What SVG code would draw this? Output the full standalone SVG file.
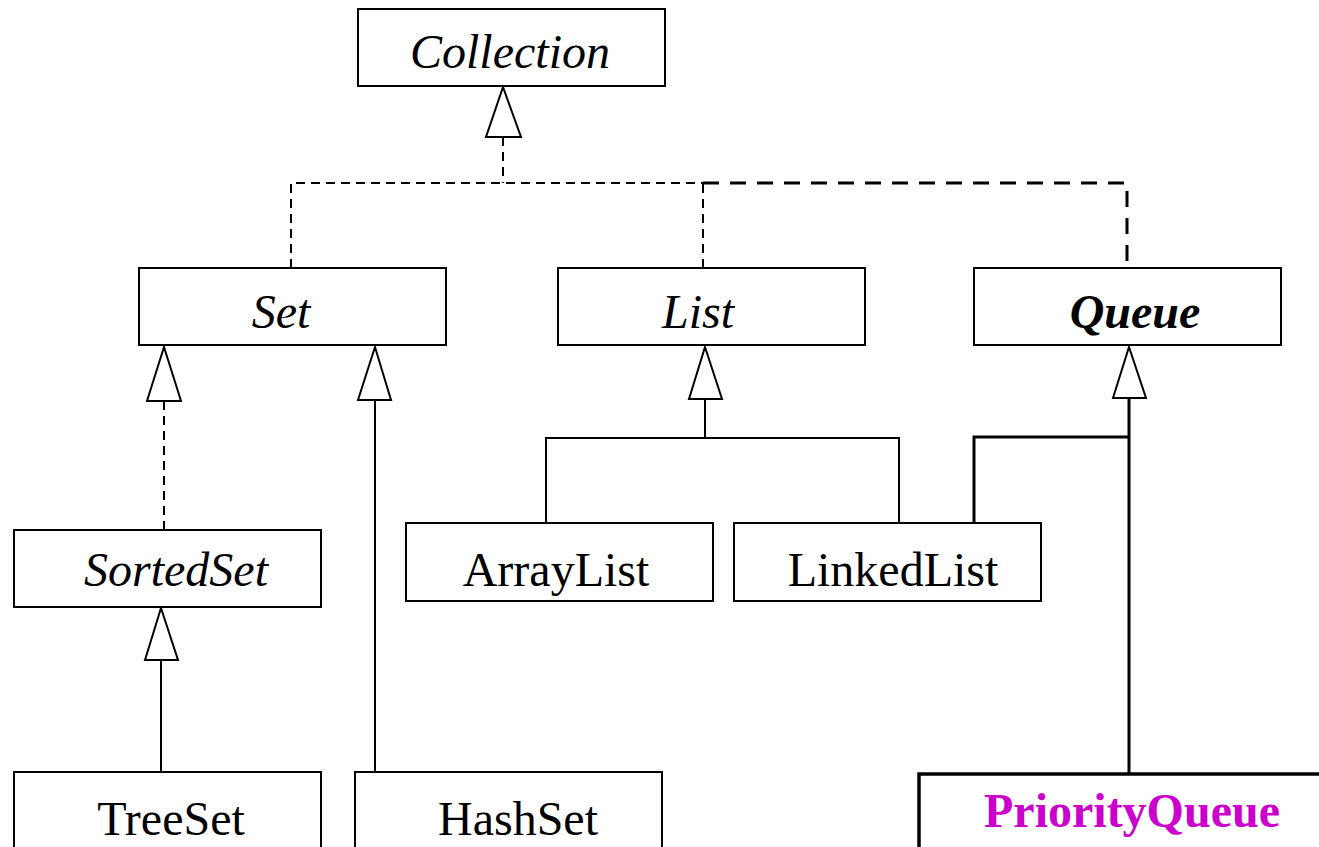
<svg xmlns="http://www.w3.org/2000/svg" width="1319" height="847" viewBox="0 0 1319 847">
<style>
.box{fill:#fff;stroke:#000;stroke-width:2}
.pq{stroke-width:3.5}
.t{font-family:"Liberation Serif","Times New Roman",serif;font-size:48px;text-anchor:middle;fill:#000}
.i{font-style:italic}
.b{font-weight:bold}
.mag{fill:#cc00cc}
.c{fill:none;stroke:#000;stroke-width:2}
.d{stroke-dasharray:9 6}
.thick{stroke-width:3}
.dd{stroke-dasharray:16 11}
.tri{fill:#fff;stroke:#000;stroke-width:2}
</style>
<rect width="1319" height="847" fill="#fff"/>
<g id="connectors">
  <path class="c d" d="M503,137 V183 M291,268 V183 H703"/>
  <path class="c d" d="M703,268 V183"/>
  <path class="c thick dd" d="M703,183 H1127 V268"/>
  <polygon class="tri" points="503,87 486,137 521,137"/>
  <path class="c d" d="M164,530 V402"/>
  <polygon class="tri" points="164,347 147,401 181,401"/>
  <path class="c" d="M375,772 V400"/>
  <polygon class="tri" points="375,347 358,400 391,400"/>
  <path class="c" d="M161,772 V660"/>
  <polygon class="tri" points="161,608 145,660 178,660"/>
  <path class="c" d="M705,400 V438 M546,523 V438 H899 V523"/>
  <polygon class="tri" points="705,347 689,399 722,399"/>
  <path class="c thick" d="M1129,398 V773 M974,523 V437 H1129"/>
  <polygon class="tri thick" points="1129,347 1113,398 1146,398"/>
</g>
<g id="Collection"><rect class="box" x="358" y="9" width="307" height="77"/><text class="t i" x="510" y="68">Collection</text></g>
<g id="Set"><rect class="box" x="139" y="268" width="307" height="77"/><text class="t i" x="281" y="328">Set</text></g>
<g id="List"><rect class="box" x="558" y="268" width="307" height="77"/><text class="t i" x="698" y="328">List</text></g>
<g id="Queue"><rect class="box" x="974" y="268" width="307" height="77"/><text class="t i b" x="1135" y="328">Queue</text></g>
<g id="SortedSet"><rect class="box" x="14" y="530" width="307" height="77"/><text class="t i" x="176" y="586">SortedSet</text></g>
<g id="ArrayList"><rect class="box" x="406" y="523" width="307" height="78"/><text class="t" x="556" y="586">ArrayList</text></g>
<g id="LinkedList"><rect class="box" x="734" y="523" width="307" height="78"/><text class="t" x="893" y="586">LinkedList</text></g>
<g id="TreeSet"><rect class="box" x="14" y="772" width="307" height="100"/><text class="t" x="171" y="835">TreeSet</text></g>
<g id="HashSet"><rect class="box" x="355" y="772" width="307" height="100"/><text class="t" x="518" y="835">HashSet</text></g>
<g id="PriorityQueue"><rect class="box pq" x="919" y="774" width="420" height="100"/><text class="t b mag" x="1132" y="827">PriorityQueue</text></g>
</svg>
